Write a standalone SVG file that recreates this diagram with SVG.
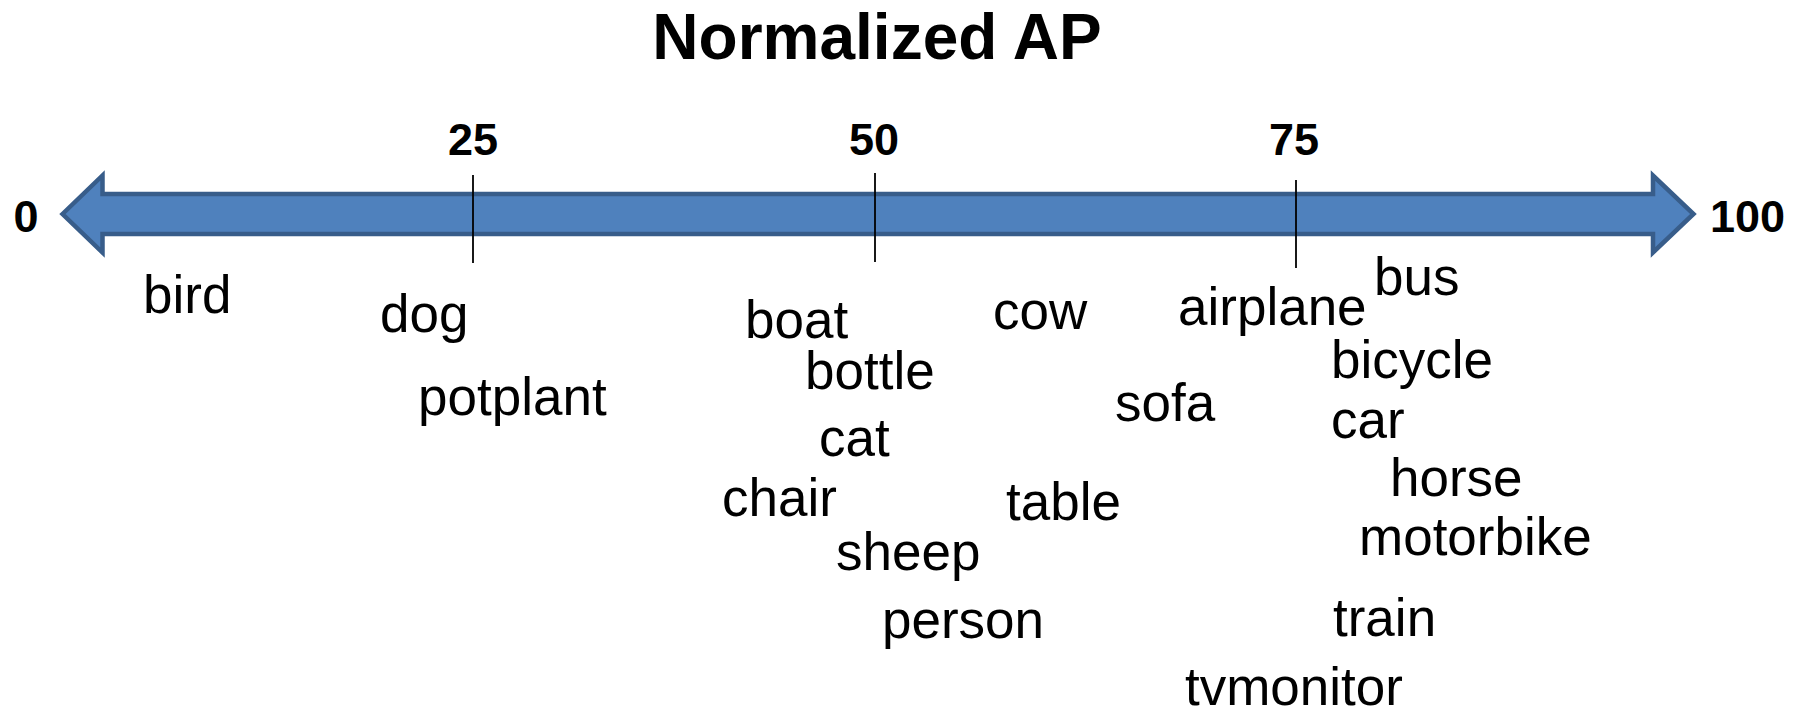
<svg xmlns="http://www.w3.org/2000/svg" width="1794" height="718" viewBox="0 0 1794 718">
  <style>
    text { font-family: "Liberation Sans", Arial, sans-serif; fill: #000; }
    .title { font-size: 64px; font-weight: bold; text-anchor: middle; }
    .num { font-size: 45px; font-weight: bold; }
    .mid { text-anchor: middle; }
    .lbl { font-size: 53px; }
    .axis { fill: #4F81BD; stroke: #385D8A; stroke-width: 4.5; stroke-linejoin: miter; }
    .tick { stroke: #000; stroke-width: 1.8; fill: none; }
  </style>

  <rect width="1794" height="718" fill="#fff"/>

  <text id="title" class="title" x="877" y="59">Normalized AP</text>

  <!-- double-headed axis arrow -->
  <g id="axis">
    <path class="axis" d="M62.5,214 L102.5,175.5 L102.5,194 L1653,194 L1653,175.5 L1693.5,214 L1653,252.5 L1653,234 L102.5,234 L102.5,252.5 Z"/>
  </g>

  <!-- tick marks and scale values -->
  <g id="connectors">
    <line class="tick" x1="473" y1="175" x2="473" y2="263"/>
    <line class="tick" x1="875" y1="173" x2="875" y2="262"/>
    <line class="tick" x1="1296" y1="180" x2="1296" y2="268"/>
  </g>
  <g id="scale-0"><text class="num mid" x="26" y="232">0</text></g>
  <g id="scale-25"><text class="num mid" x="473" y="155">25</text></g>
  <g id="scale-50"><text class="num mid" x="874" y="155">50</text></g>
  <g id="scale-75"><text class="num mid" x="1294" y="155">75</text></g>
  <g id="scale-100"><text class="num" x="1710" y="232">100</text></g>

  <!-- category labels -->
  <g id="bird"><text class="lbl" x="143" y="313">bird</text></g>
  <g id="dog"><text class="lbl" x="380" y="332">dog</text></g>
  <g id="potplant"><text class="lbl" x="418" y="415">potplant</text></g>
  <g id="boat"><text class="lbl" x="745" y="338">boat</text></g>
  <g id="bottle"><text class="lbl" x="805" y="389">bottle</text></g>
  <g id="cat"><text class="lbl" x="819" y="456">cat</text></g>
  <g id="chair"><text class="lbl" x="722" y="516">chair</text></g>
  <g id="sheep"><text class="lbl" x="836" y="570">sheep</text></g>
  <g id="person"><text class="lbl" x="882" y="638">person</text></g>
  <g id="cow"><text class="lbl" x="993" y="329">cow</text></g>
  <g id="table"><text class="lbl" x="1006" y="520">table</text></g>
  <g id="sofa"><text class="lbl" x="1115" y="421">sofa</text></g>
  <g id="airplane"><text class="lbl" x="1178" y="325">airplane</text></g>
  <g id="bus"><text class="lbl" x="1374" y="295">bus</text></g>
  <g id="bicycle"><text class="lbl" x="1331" y="378">bicycle</text></g>
  <g id="car"><text class="lbl" x="1331" y="438">car</text></g>
  <g id="horse"><text class="lbl" x="1390" y="496">horse</text></g>
  <g id="motorbike"><text class="lbl" x="1359" y="555">motorbike</text></g>
  <g id="train"><text class="lbl" x="1333" y="636">train</text></g>
  <g id="tvmonitor"><text class="lbl" x="1185" y="705">tvmonitor</text></g>
</svg>
